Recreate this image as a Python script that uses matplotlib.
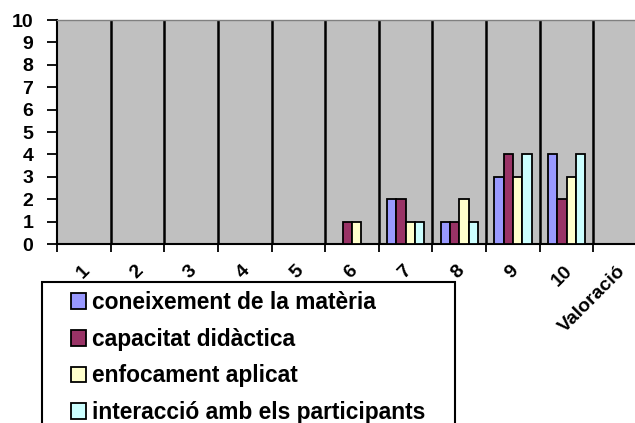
import numpy as np
import matplotlib
matplotlib.use('Agg')
import matplotlib.pyplot as plt
from matplotlib.ticker import FixedLocator
from matplotlib.patches import Rectangle
from matplotlib.transforms import ScaledTranslation

plt.rcParams['font.family'] = ['Liberation Sans', 'DejaVu Sans']
plt.rcParams['font.weight'] = 'bold'

# data
categories = ['1', '2', '3', '4', '5', '6', '7', '8', '9', '10', 'Valoració']
coneixement = [0, 0, 0, 0, 0, 0, 2, 1, 3, 4, 0]
capacitat = [0, 0, 0, 0, 0, 1, 2, 1, 4, 2, 0]
enfocament = [0, 0, 0, 0, 0, 1, 1, 2, 3, 3, 0]
interaccio = [0, 0, 0, 0, 0, 0, 1, 1, 4, 4, 0]

series = [
    ('coneixement de la matèria', coneixement, '#9999FF'),
    ('capacitat didàctica', capacitat, '#993366'),
    ('enfocament aplicat', enfocament, '#FFFFCC'),
    ('interacció amb els participants', interaccio, '#CCFFFF'),
]

W, H = 635, 423
fig = plt.figure(figsize=(6.35, 4.23), dpi=100)
fig.patch.set_facecolor('white')

# plot area runs past the right edge like in the original
ax = fig.add_axes([57 / W, (H - 244) / H, 590 / W, 224 / H])
ax.set_facecolor('#C0C0C0')

x = np.arange(len(categories))
bw = 0.175
for i, (name, vals, col) in enumerate(series):
    ax.bar(x + (i - 1.5) * bw, vals, bw, color=col, edgecolor='black',
           linewidth=1.3, label=name, zorder=3)

ax.set_xlim(-0.5, len(categories) - 0.5)
ax.set_ylim(0, 10)

# vertical separators between categories
for b in np.arange(0.5, len(categories) - 0.5, 1):
    ax.axvline(b, color='black', linewidth=1.8, zorder=2)

ax.set_yticks(range(0, 11))
ax.tick_params(axis='y', direction='out', length=7, width=1.3, labelsize=14, pad=10)
for lab in ax.get_yticklabels():
    lab.set_fontweight('bold')

ax.set_xticks(x)
ax.set_xticklabels(categories, rotation=45, ha='right', va='top',
                   rotation_mode='anchor', fontsize=14, fontweight='bold')
ax.tick_params(axis='x', which='major', length=0, pad=13)
shift = ScaledTranslation(-3 / 100, 0, fig.dpi_scale_trans)
for lab in ax.get_xticklabels():
    lab.set_transform(lab.get_transform() + shift)
ax.xaxis.set_minor_locator(FixedLocator(np.arange(-0.5, len(categories), 1)))
ax.tick_params(axis='x', which='minor', direction='out', length=6, width=1.3)

for s in ['left', 'bottom']:
    ax.spines[s].set_color('black')
    ax.spines[s].set_linewidth(1.5)
ax.spines['top'].set_color('#808080')
ax.spines['top'].set_linewidth(1.0)
ax.spines['right'].set_visible(False)

# legend box, cut off by the bottom edge like the original
box = Rectangle((42 / W, -0.1), (455 - 42) / W, 0.1 + (H - 282) / H,
                transform=fig.transFigure, facecolor='white',
                edgecolor='black', linewidth=1.5, zorder=5)
fig.add_artist(box)

leg = fig.legend(loc='upper left', bbox_to_anchor=(71 / W, 1 - 291 / H),
                 frameon=False, handlelength=0.68, handleheight=0.68,
                 handletextpad=0.25, labelspacing=0.6,
                 borderpad=0, borderaxespad=0,
                 prop={'weight': 'bold', 'size': 16.4})
leg.set_zorder(6)

fig.savefig('out.png', dpi=100)
